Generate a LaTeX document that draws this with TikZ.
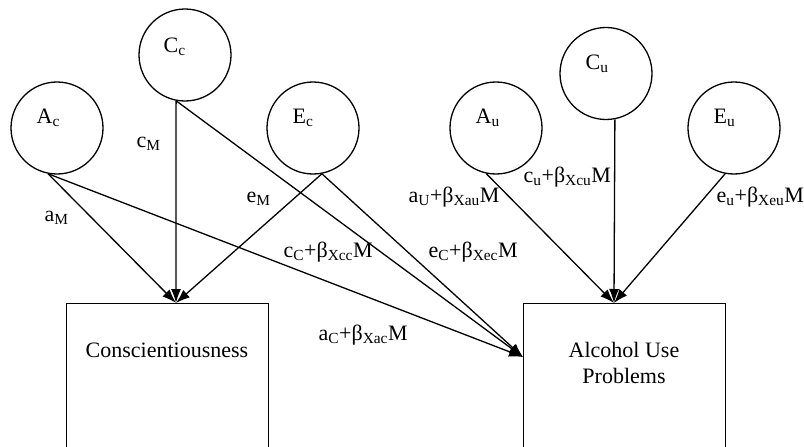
\documentclass[tikz,border=0pt]{standalone}
\usepackage{fontspec}
\setmainfont{Liberation Serif}
\usetikzlibrary{arrows.meta}
\begin{document}
\begin{tikzpicture}[x=1pt,y=-1pt,line width=1.3pt,
  every node/.style={font=\fontsize{22}{26}\selectfont},
  latent/.style={circle,draw,minimum size=92pt,inner sep=0pt},
  obs/.style={rectangle,draw,minimum width=202pt,minimum height=170pt,anchor=north west,inner sep=0pt},
  lab/.style={anchor=base west,inner sep=0pt},
  pth/.style={-{Latex[length=14pt,width=10pt]}}]
\path[use as bounding box] (0,0) rectangle (804,447);
\clip (0,0) rectangle (804,447);
% latent variables
\node[latent] (Ac) at (57,128) {};
\node[latent] (Cc) at (185,55) {};
\node[latent] (Ec) at (313,128) {};
\node[latent] (Au) at (496,128) {};
\node[latent] (Cu) at (606,73.5) {};
\node[latent] (Eu) at (734,128) {};
\node[lab] (AcL) at (36,123) {A\textsubscript{c}};
\node[lab] (CcL) at (163,52) {C\textsubscript{c}};
\node[lab] (EcL) at (292,123) {E\textsubscript{c}};
\node[lab] (AuL) at (475,123) {A\textsubscript{u}};
\node[lab] (CuL) at (585,69) {C\textsubscript{u}};
\node[lab] (EuL) at (713,123) {E\textsubscript{u}};
% observed
\node[obs] (cons) at (66,303) {};
\node[obs] (alc) at (523,303) {};
\node[anchor=base,inner sep=0pt] (consT) at (167,357) {Conscientiousness};
\node[align=center,inner sep=0pt] (alcT) at (624,362.5) {Alcohol Use\\Problems};
\coordinate (consin) at (176,303);
\coordinate (alcin) at (614,303);
\coordinate (alcleft) at (523,357);
% paths
\draw[pth] (Ac.259) -- (consin);
\draw[pth] (Cc.259) -- (consin);
\draw[pth] (Ec.281) -- (consin);
\draw[pth] (Ac.259) -- (alcleft);
\draw[pth] (Cc.259) -- (alcleft);
\draw[pth] (Ec.281) -- (alcleft);
\draw[pth] (Au.258) -- (alcin);
\draw[pth] (Cu.281) -- (alcin);
\draw[pth] (Eu.259) -- (alcin);
% path labels
\node[lab] (aM) at (44,221) {a\textsubscript{M}};
\node[lab] (cM) at (136,147) {c\textsubscript{M}};
\node[lab] (eM) at (246,202) {e\textsubscript{M}};
\node[lab] (cC) at (283,257) {c\textsubscript{C}+β\textsubscript{Xcc}M};
\node[lab] (eC) at (428,257) {e\textsubscript{C}+β\textsubscript{Xec}M};
\node[lab] (aC) at (318,340) {a\textsubscript{C}+β\textsubscript{Xac}M};
\node[lab] (aU) at (408,202) {a\textsubscript{U}+β\textsubscript{Xau}M};
\node[lab] (cu) at (523,182) {c\textsubscript{u}+β\textsubscript{Xcu}M};
\node[lab] (eu) at (716,202) {e\textsubscript{u}+β\textsubscript{Xeu}M};
\end{tikzpicture}
\end{document}
